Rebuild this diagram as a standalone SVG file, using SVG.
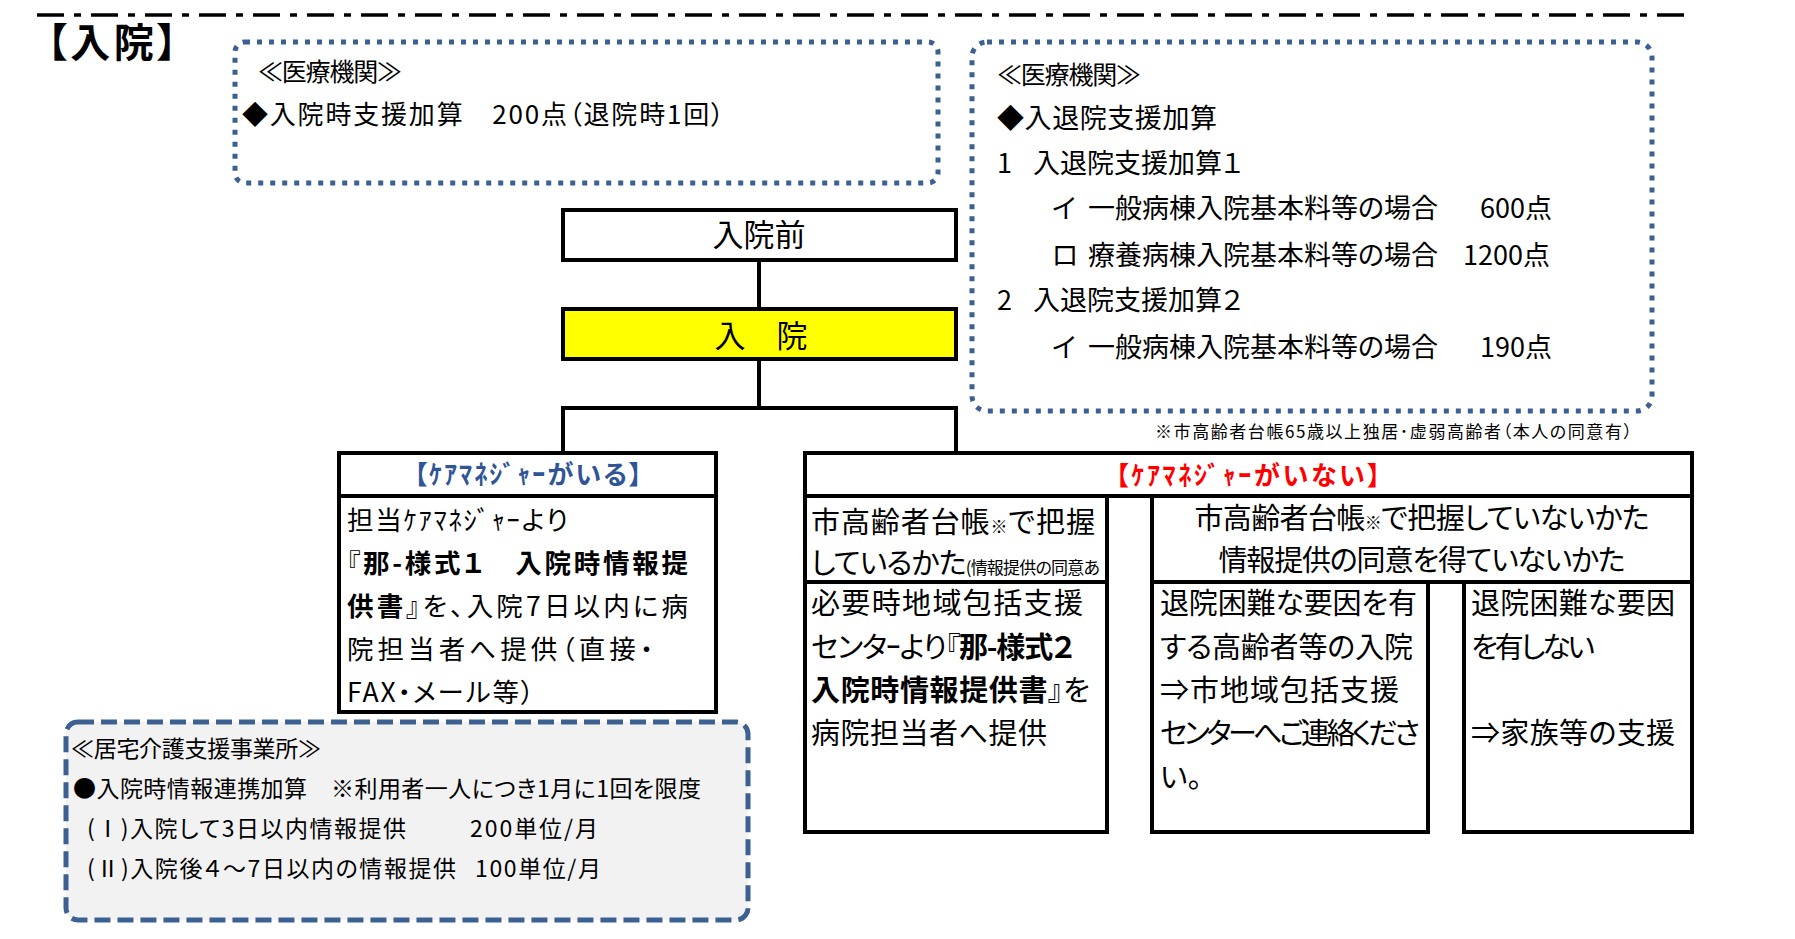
<svg xmlns="http://www.w3.org/2000/svg" width="1795" height="939" viewBox="0 0 1795 939">
<style>
text{font-family:"Noto Sans CJK JP","Noto Sans CJK SC",sans-serif;font-feature-settings:"palt";fill:#000}
.b{font-weight:700}
.box{fill:#fff;stroke:#000;stroke-width:4}
.ln{fill:none;stroke:#000;stroke-width:4}
.dot{fill:none;stroke:#3B6091;stroke-width:5;stroke-dasharray:5 7}
.dash{fill:#F2F2F2;stroke:#3B6091;stroke-width:5;stroke-dasharray:16 7}
.f24{font-size:25px}
.f27{font-size:27px}
.f29{font-size:29px}
.f23{font-size:23px}
.sm{font-size:17px}
</style>
<rect width="1795" height="939" fill="#fff"/>
<g id="header">
<line x1="37" y1="15" x2="1687" y2="15" stroke="#000" stroke-width="3.5" stroke-dasharray="27 10 7 10"/>
<text x="47" y="57" font-size="40" class="b" textLength="130">【入院】</text>
</g>
<g id="hosp-note-1">
<rect class="dot" x="235" y="42" width="703" height="141" rx="10"/>
<text x="258" y="81" class="f24" textLength="144">≪医療機関≫</text>
<text x="242" y="124" font-size="26" textLength="482">◆入院時支援加算　200点（退院時1回）</text>
</g>
<g id="hosp-note-2">
<rect class="dot" x="972" y="42" width="680" height="369" rx="15"/>
<text x="997" y="84" class="f24" textLength="144">≪医療機関≫</text>
<text x="997" y="128" class="f27" textLength="220">◆入退院支援加算</text>
<text y="173" class="f27"><tspan x="997">1</tspan><tspan x="1033">入退院支援加算１</tspan></text>
<text y="218" class="f27"><tspan x="1052">イ</tspan><tspan x="1088">一般病棟入院基本料等の場合</tspan><tspan x="1480">600点</tspan></text>
<text y="265" class="f27"><tspan x="1052">ロ</tspan><tspan x="1088">療養病棟入院基本料等の場合</tspan><tspan x="1463">1200点</tspan></text>
<text y="310" class="f27"><tspan x="997">2</tspan><tspan x="1033">入退院支援加算２</tspan></text>
<text y="357" class="f27"><tspan x="1052">イ</tspan><tspan x="1088">一般病棟入院基本料等の場合</tspan><tspan x="1480">190点</tspan></text>
</g>
<text x="1155" y="438" class="sm" textLength="477">※市高齢者台帳65歳以上独居･虚弱高齢者（本人の同意有）</text>
<g id="connectors">
<line class="ln" x1="759" y1="260" x2="759" y2="309"/>
<line class="ln" x1="759" y1="359" x2="759" y2="408"/>
<polyline class="ln" points="563,453 563,408 956,408 956,453"/>
</g>
<g id="before-admission">
<rect class="box" x="563" y="210" width="393" height="50"/>
<text x="759" y="246" font-size="31" text-anchor="middle">入院前</text>
</g>
<g id="admission">
<rect class="box" x="563" y="309" width="393" height="50" style="fill:#FFFF00"/>
<text x="761" y="347" font-size="31" text-anchor="middle">入　院</text>
</g>
<g id="with-cm">
<rect class="box" x="339" y="453" width="377" height="259"/>
<line class="ln" x1="339" y1="496" x2="716" y2="496"/>
<text x="528" y="484" font-size="26" class="b" text-anchor="middle" textLength="228" style="fill:#2F5597">【ｹｱﾏﾈｼﾞｬｰがいる】</text>
<text x="347" y="530" font-size="26.5" textLength="221">担当ｹｱﾏﾈｼﾞｬｰより</text>
<text x="347" y="573" font-size="26.5" textLength="341">『<tspan class="b">那-様式１　入院時情報提</tspan></text>
<text x="347" y="616" font-size="26.5" textLength="341"><tspan class="b">供書</tspan>』を、入院7日以内に病</text>
<text x="347" y="659" font-size="26.5" textLength="306">院担当者へ提供（直接・</text>
<text x="347" y="702" font-size="26.5" textLength="187">FAX・メール等）</text>
</g>
<g id="without-cm">
<rect class="box" x="805" y="453" width="887" height="43"/>
<text x="1248" y="485" font-size="26" class="b" text-anchor="middle" textLength="265" style="fill:#FF0000">【ｹｱﾏﾈｼﾞｬｰがいない】</text>
</g>
<g id="registered">
<rect class="box" x="805" y="496" width="302" height="336"/>
<line class="ln" x1="805" y1="582" x2="1107" y2="582"/>
<text x="811" y="533" class="f29" textLength="284">市高齢者台帳<tspan class="sm">※</tspan>で把握</text>
<text x="811" y="574" class="f29" textLength="289">しているかた<tspan class="sm">(情報提供の同意あ</tspan></text>
<text x="811" y="614" class="f29" textLength="272">必要時地域包括支援</text>
<text x="811" y="658" class="f29" textLength="263">センタｰより『<tspan class="b">那-様式２</tspan></text>
<text x="811" y="701" class="f29" textLength="279"><tspan class="b">入院時情報提供書</tspan>』を</text>
<text x="811" y="744" class="f29" textLength="236">病院担当者へ提供</text>
</g>
<g id="not-registered">
<rect class="box" x="1152" y="496" width="540" height="86"/>
<text x="1422" y="529" class="f29" text-anchor="middle" textLength="455">市高齢者台帳<tspan class="sm">※</tspan>で把握していないかた</text>
<text x="1422" y="571" class="f29" text-anchor="middle" textLength="407">情報提供の同意を得ていないかた</text>
</g>
<g id="difficult">
<rect class="box" x="1152" y="582" width="276" height="250"/>
<text x="1160" y="614" class="f29" textLength="257">退院困難な要因を有</text>
<text x="1160" y="658" class="f29" textLength="253">する高齢者等の入院</text>
<text x="1160" y="701" class="f29" textLength="239">⇒市地域包括支援</text>
<text x="1160" y="744" class="f29" textLength="260">センターへご連絡くださ</text>
<text x="1160" y="788" class="f29">い。</text>
</g>
<g id="not-difficult">
<rect class="box" x="1464" y="582" width="228" height="250"/>
<text x="1471" y="614" class="f29" textLength="204">退院困難な要因</text>
<text x="1471" y="658" class="f29" textLength="124">を有しない</text>
<text x="1471" y="744" class="f29" textLength="204">⇒家族等の支援</text>
</g>
<g id="care-office-note">
<rect class="dash" x="66" y="722" width="682" height="198" rx="12"/>
<text x="71" y="757" class="f23" textLength="250">≪居宅介護支援事業所≫</text>
<text x="73" y="797" class="f23" textLength="628">●入院時情報連携加算　※利用者一人につき1月に1回を限度</text>
<text x="87" y="837" class="f23" textLength="319">(Ⅰ)入院して3日以内情報提供</text>
<text x="470" y="837" class="f23" textLength="128">200単位/月</text>
<text x="87" y="877" class="f23" textLength="369">(Ⅱ)入院後４～7日以内の情報提供</text>
<text x="475" y="877" class="f23" textLength="126">100単位/月</text>
</g>
</svg>
